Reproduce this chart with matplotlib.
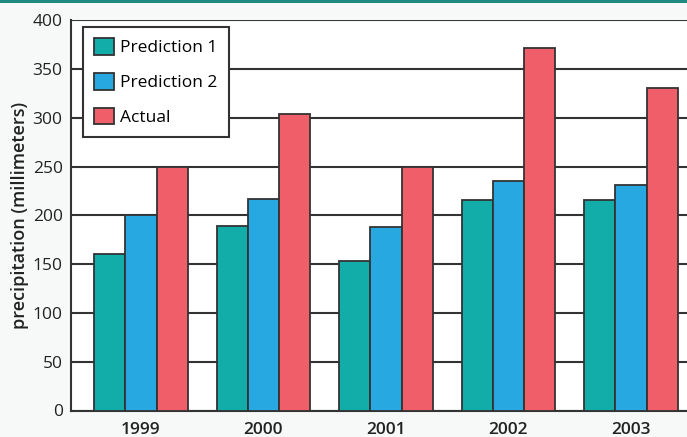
import numpy as np
import matplotlib
matplotlib.use("Agg")
import matplotlib.pyplot as plt
from matplotlib.patches import Rectangle

years = ["1999", "2000", "2001", "2002", "2003"]
prediction_1 = [160, 189, 153, 216, 216]
prediction_2 = [200, 217, 188, 235, 231]
actual = [250, 304, 250, 372, 331]

series = [
    ("Prediction 1", prediction_1, "#12ADA8"),
    ("Prediction 2", prediction_2, "#27A8E0"),
    ("Actual", actual, "#F05E69"),
]

plt.rcParams['font.family'] = ['Open Sans', 'DejaVu Sans']

fig = plt.figure(figsize=(6.87, 4.37), dpi=100, facecolor="#F7F9F9")
# thin accent band along the top edge
fig.patches.append(Rectangle((0, 1 - 3 / 437), 1, 3 / 437, transform=fig.transFigure,
                             facecolor="#1F8A80", edgecolor="none"))

ax = fig.add_axes([71 / 687, 26.5 / 437, 616 / 687, 390.3 / 437])
ax.set_facecolor("white")

x = np.arange(len(years))
w = 0.255
for i, (name, vals, col) in enumerate(series):
    ax.bar(x + (i - 1) * w, vals, width=w, color=col, edgecolor="#333333",
           linewidth=1.3, label=name, zorder=3)

ax.set_ylim(0, 400)
ax.set_xlim(-0.571, 4.457)
ax.set_yticks(np.arange(0, 401, 50))
ax.set_xticks(x)
ax.set_xticklabels(years, fontsize=12.5, fontweight="semibold", color="#222222")
ax.tick_params(axis="y", labelsize=12.5, length=0, labelcolor="#222222", pad=6)
ax.tick_params(axis="x", length=0, pad=8)
ax.yaxis.grid(True, color="#333333", linewidth=1.5, zorder=0)
ax.set_axisbelow(True)

for s in ["top", "right"]:
    ax.spines[s].set_visible(False)
for s in ["left", "bottom"]:
    ax.spines[s].set_color("#333333")
    ax.spines[s].set_linewidth(1.5)

ax.set_ylabel("precipitation (millimeters)", fontsize=13, fontweight="semibold",
              color="#222222")
ax.yaxis.set_label_coords(-0.068, 0.5)

leg = ax.legend(loc="upper left", bbox_to_anchor=(0.019, 0.983), fontsize=12.5,
                frameon=True, fancybox=False, handlelength=1.15, handleheight=1.1,
                borderpad=0.65, labelspacing=0.95, handletextpad=0.35,
                borderaxespad=0)
leg.get_frame().set_edgecolor("#333333")
leg.get_frame().set_linewidth(1.5)
leg.get_frame().set_alpha(1)

fig.savefig("out.png", dpi=100, facecolor=fig.get_facecolor())
